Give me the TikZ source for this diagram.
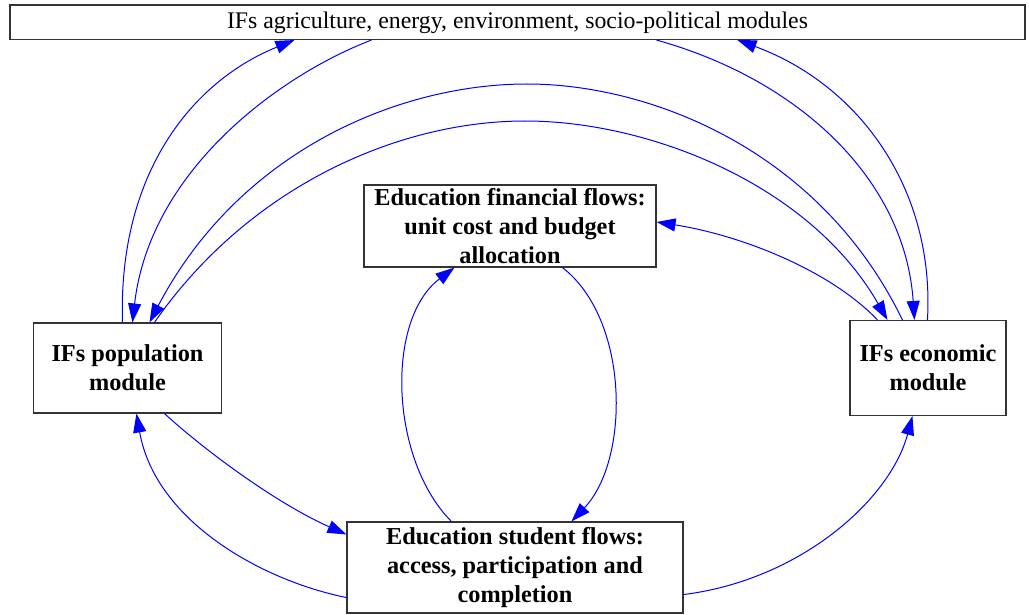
\documentclass[tikz,border=0pt]{standalone}
\usepackage{fontspec}
\setmainfont{Liberation Serif}
\usetikzlibrary{arrows.meta}
\begin{document}
\begin{tikzpicture}[x=1pt,y=-1pt,
  box/.style={draw=black!80,line width=1.1pt,rectangle,inner sep=0pt,align=center,
    font=\fontsize{24.3}{29}\selectfont\bfseries},
  topbox/.style={draw=black!80,line width=1.1pt,rectangle,inner sep=0pt,
    text height=19pt,text depth=6pt,
    font=\fontsize{23.8}{28}\selectfont},
  flow/.style={draw=blue,line width=1pt,-{Triangle[length=19pt,width=13pt]},fill=none}
]
\useasboundingbox (0,0) rectangle (1029,615);
\node[topbox,minimum width=1015pt,minimum height=34.5pt] (top) at (517.5,22.25)
  {IFs agriculture, energy, environment, socio-political modules};
\node[box,minimum width=188pt,minimum height=90pt] (pop) at (127.5,368)
  {IFs population\\module};
\node[box,minimum width=156pt,minimum height=95pt] (econ) at (928,368)
  {IFs economic\\module};
\node[box,minimum width=292pt,minimum height=82pt] (fin) at (510,226)
  {Education financial flows:\\unit cost and budget\\allocation};
\node[box,minimum width=336pt,minimum height=91pt] (stu) at (515,567.5)
  {Education student flows:\\access, participation and\\completion};

% population <-> top
\draw[flow] ([xshift=89.5pt]pop.north west) .. controls (118,170) and (195,80) .. ([xshift=285pt]top.south west);
\draw[flow] ([xshift=362pt]top.south west) .. controls (280,75) and (150,170) .. ([xshift=99.5pt]pop.north west);
% economic <-> population
\draw[flow] ([xshift=53pt]econ.north west) .. controls (820,150) and (650,84) .. (527,84)
  .. controls (400,84) and (240,150) .. ([xshift=116.5pt]pop.north west);
\draw[flow] ([xshift=121.5pt]pop.north west) .. controls (250,185) and (400,121) .. (525,121)
  .. controls (650,121) and (810,185) .. ([xshift=38pt]econ.north west);
% top <-> economic
\draw[flow] ([xshift=647pt]top.south west) .. controls (800,80) and (905,180) .. ([xshift=65pt]econ.north west);
\draw[flow] ([xshift=78pt]econ.north west) .. controls (935,190) and (860,85) .. ([xshift=728pt]top.south west);
% economic -> financial
\draw[flow] ([xshift=28pt]econ.north west) .. controls (830,270) and (740,235) .. ([yshift=4pt]fin.east);
% student <-> financial
\draw[flow] ([xshift=105pt]stu.north west) .. controls (390,460) and (385,320) .. ([xshift=91pt]fin.south west);
\draw[flow] ([xshift=199pt]fin.south west) .. controls (630,320) and (630,460) .. ([xshift=225pt]stu.north west);
% population <-> student
\draw[flow] ([xshift=131.5pt]pop.south west) .. controls (210,455) and (280,505) .. ([yshift=-13pt]stu.north west);
\draw[flow] ([yshift=16pt]stu.south west) .. controls (260,580) and (155,520) .. ([xshift=103.5pt]pop.south west);
% student -> economic
\draw[flow] ([yshift=19pt]stu.south east) .. controls (800,580) and (890,500) .. ([xshift=63pt]econ.south west);
\end{tikzpicture}
\end{document}
